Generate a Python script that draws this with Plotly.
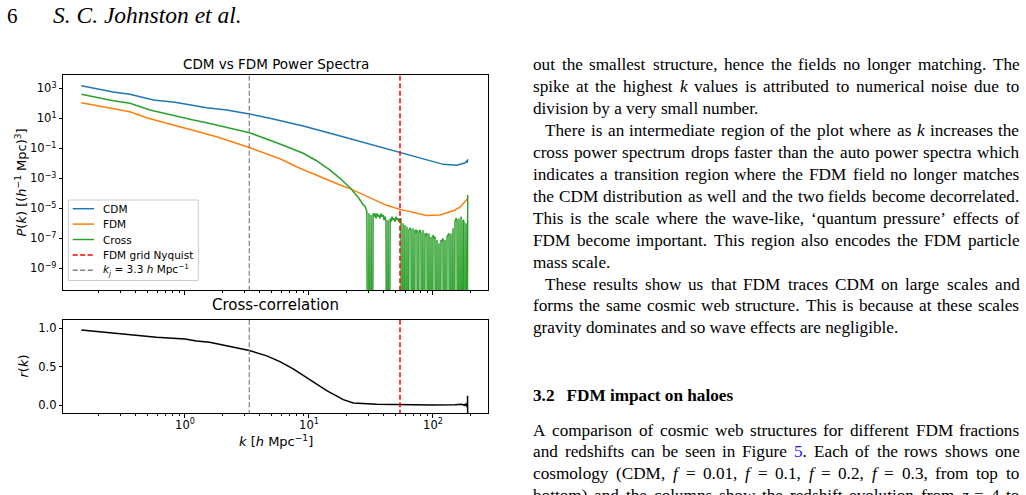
import re
import plotly.graph_objects as go

W, H = 1026, 495

# ---------------- data ----------------
cdm_k = [0.146, 0.264, 0.360, 0.556, 0.83, 1.096, 1.496, 2.168, 3.31, 4.84, 5.83, 8.99,
         16.7, 31.0, 54.2, 89.1, 121, 155, 174, 181, 186, 189, 190.5]
cdm_p = [1480, 562, 398, 166, 117, 77.6, 51.3, 35.5, 19.5, 10.0, 6.9, 3.1,
         0.78, 0.195, 0.051, 0.0166, 0.0085, 0.0074, 0.0089, 0.0105, 0.0135, 0.011, 0.0186]

fdm_k = [0.146, 0.264, 0.360, 0.490, 1.03, 1.80, 3.31, 5.83, 8.45, 12.6, 17.8, 21.9,
         28.2, 33.0, 42.3, 54.2, 69.3, 89.1, 113.8, 128.8, 147.9, 165.2, 186.2, 190.5]
fdm_p = [110, 41.7, 27.5, 11.0, 2.14, 0.589, 0.112, 0.0200, 4.68e-3, 1.12e-3, 3.55e-4, 1.91e-4,
         7.6e-5, 3.98e-5, 1.58e-5, 8.5e-6, 5.1e-6, 3.3e-6, 3.55e-6, 4.7e-6, 7.1e-6, 1.17e-5, 3.55e-5, 4.5e-5]

# cross spectrum, smooth large-scale part
cross_k = [0.146, 0.264, 0.360, 0.522, 1.167, 1.496, 3.31, 4.84, 5.83, 8.99, 11.5, 14.8,
           17.8, 21.9, 25.1, 27.4, 28.3]
cross_p = [398, 148, 100, 35.5, 7.76, 5.13, 1.10, 0.355, 0.195, 0.0468, 0.0148, 3.55e-3,
           1.0e-3, 1.91e-4, 5.0e-5, 1.66e-5, 1.4e-5]

# cross spectrum, noisy small-scale part; 0 marks non-positive values (off the log axis)
cross_noise_k = [28.3, 28.8, 29.3, 29.9, 30.5, 31.1, 31.7, 32.2, 32.9, 33.5, 34.1, 34.7, 35.4, 36.1,
                 36.7, 37.4, 38.1, 38.8, 39.6, 40.3, 41.1, 41.8, 42.6, 43.4, 44.2, 45.1, 45.9, 46.8,
                 47.6, 48.5, 49.4, 50.4, 51.3, 52.3, 53.2, 54.2,
                 55.2, 56.2, 57.3, 58.3, 59.4, 60.5, 61.7, 62.8, 64.0, 65.3, 66.5, 67.7, 69.0, 70.3,
                 71.6, 72.9, 74.3, 75.7, 77.1, 78.6, 80.0, 81.5, 83.0, 84.6, 86.2, 87.8, 89.5, 91.2,
                 92.9, 94.6, 96.4, 98.2, 100.0, 101.9, 103.8, 105.7, 107.7, 109.7, 111.8, 113.8, 116.0,
                 118.2, 120.4, 122.6, 124.9, 127.3, 129.7, 132.1, 134.6, 137.1, 139.7, 142.3, 144.9,
                 147.6, 150.4, 153.2, 156.1, 159.1, 162.0, 165.1, 168.2, 171.3, 174.5, 177.8, 181.1,
                 184.5, 188.0, 190.5]
cross_noise_p = [1.4e-5, 1.0e-5, 6.0e-6, 0, 4.6e-6, 0, 3.6e-6, 0, 4.6e-6, 2.8e-6, 4.6e-6, 2.1e-6, 4.6e-6, 2.8e-6,
                 3.6e-6, 2.1e-6, 4.6e-6, 2.8e-6, 3.6e-6, 1.66e-6, 2.8e-6, 1.29e-6, 0, 1.66e-6, 0, 2.1e-6, 1.29e-6, 2.8e-6,
                 1.66e-6, 2.1e-6, 1.29e-6, 2.8e-6, 1.66e-6, 2.1e-6, 1.29e-6, 1.66e-6,
                 2.1e-6, 0, 1.0e-6, 0, 7.7e-7, 0, 6.0e-7, 0, 3.6e-7, 4.6e-7, 3.6e-7, 0, 4.6e-7, 0,
                 3.6e-7, 2.8e-7, 3.6e-7, 0, 2.8e-7, 3.6e-7, 2.1e-7, 0, 3.6e-7, 0, 2.1e-7, 1.66e-7, 2.1e-7, 0,
                 2.1e-7, 0, 1.29e-7, 0, 1.66e-7, 1.0e-7, 1.29e-7, 0, 7.7e-8, 0, 4.6e-8, 0, 7.7e-8,
                 6.0e-8, 1.0e-7, 0, 7.7e-8, 0, 1.29e-7, 1.66e-7, 2.1e-7, 0, 2.1e-7, 0, 4.6e-7,
                 0, 1.29e-6, 2.1e-6, 1.66e-6, 0, 2.1e-6, 0, 2.8e-6, 0, 1.66e-6, 1.29e-6, 0,
                 1.0e-6, 0, 7.7e-5]

r_k = [0.146, 0.59, 1.0, 1.24, 1.58, 2.45, 3.31, 4.57, 5.83, 7.46, 10.2, 13.9, 18.9, 22.8,
       35.2, 54.0, 100, 150, 170, 180, 184, 187, 188.5, 189.5, 190.0, 190.5]
r_val = [0.978, 0.883, 0.862, 0.836, 0.819, 0.754, 0.711, 0.642, 0.568, 0.474, 0.332, 0.19, 0.074, 0.031,
         0.013, 0.008, 0.005, 0.006, 0.012, 0.0, 0.02, -0.015, 0.03, -0.03, 0.125, -0.2]

K_J = 3.3
K_NYQ = 54.2

ytick_exp = [3, 1, -1, -3, -5, -7, -9]
xtick_exp = [0, 1, 2]
r_ticks = [0.0, 0.5, 1.0]

series_names = ["CDM", "FDM", "Cross", "FDM grid Nyquist",
                "<i>k</i><sub><i>j</i></sub> = 3.3 <i>h</i> Mpc<sup>\u22121</sup>"]

C_CDM, C_FDM, C_CROSS = "#1f77b4", "#ff7f0e", "#2ca02c"
C_NYQ, C_KJ = "#ff0000", "#808080"
DASH_NYQ, DASH_KJ = "5px,2.5px", "5px,2.5px"

# ---------------- helpers ----------------
def px(x):
    return x / W


def py(y):
    return 1 - y / H


SANS = "DejaVu Sans"
SERIF = "Liberation Serif"

fig = go.Figure()

# top panel traces
fig.add_trace(go.Scatter(x=cdm_k, y=cdm_p, mode="lines", line=dict(color=C_CDM, width=1.5),
                         xaxis="x", yaxis="y", name=series_names[0], showlegend=False, hoverinfo="skip"))
fig.add_trace(go.Scatter(x=fdm_k, y=fdm_p, mode="lines", line=dict(color=C_FDM, width=1.5),
                         xaxis="x", yaxis="y", name=series_names[1], showlegend=False, hoverinfo="skip"))
fig.add_trace(go.Scatter(x=cross_k, y=cross_p, mode="lines", line=dict(color=C_CROSS, width=1.5),
                         xaxis="x", yaxis="y", name=series_names[2], showlegend=False, hoverinfo="skip"))
noise_plot = [p if p > 0 else 1e-30 for p in cross_noise_p]
fig.add_trace(go.Scatter(x=cross_noise_k, y=noise_plot, mode="lines", line=dict(color=C_CROSS, width=1.5),
                         xaxis="x", yaxis="y", name=series_names[2], showlegend=False, hoverinfo="skip"))
fig.add_trace(go.Scatter(x=[K_NYQ, K_NYQ], y=[1e-12, 1e5], mode="lines",
                         line=dict(color=C_NYQ, width=1.5, dash=DASH_NYQ),
                         xaxis="x", yaxis="y", showlegend=False, hoverinfo="skip"))
fig.add_trace(go.Scatter(x=[K_J, K_J], y=[1e-12, 1e5], mode="lines",
                         line=dict(color=C_KJ, width=1.2, dash=DASH_KJ),
                         xaxis="x", yaxis="y", showlegend=False, hoverinfo="skip"))

# bottom panel traces
fig.add_trace(go.Scatter(x=r_k, y=r_val, mode="lines", line=dict(color="black", width=1.5),
                         xaxis="x2", yaxis="y2", showlegend=False, hoverinfo="skip"))
fig.add_trace(go.Scatter(x=[K_J, K_J], y=[-1, 2], mode="lines",
                         line=dict(color=C_KJ, width=1.2, dash=DASH_KJ),
                         xaxis="x2", yaxis="y2", showlegend=False, hoverinfo="skip"))
fig.add_trace(go.Scatter(x=[K_NYQ, K_NYQ], y=[-1, 2], mode="lines",
                         line=dict(color=C_NYQ, width=1.5, dash=DASH_NYQ),
                         xaxis="x2", yaxis="y2", showlegend=False, hoverinfo="skip"))

XDOM = [px(63.3), px(488.3)]
XRANGE = [-0.981, 2.446]
minor_vals = [m * 10 ** e for e in (-1, 0, 1, 2) for m in range(2, 10)]
tickfont = dict(family=SANS, size=11.5, color="black")
common_x = dict(type="log", range=XRANGE, domain=XDOM, showgrid=False, zeroline=False,
                showline=True, linecolor="black", linewidth=1, mirror=True,
                ticks="outside", ticklen=3.5, tickwidth=0.8, tickcolor="black",
                tickmode="array", tickvals=[10 ** e for e in xtick_exp],
                ticktext=["10<sup>%d</sup>" % e for e in xtick_exp], tickfont=tickfont,
                minor=dict(tickmode="array", tickvals=minor_vals, ticks="outside",
                           ticklen=2, tickwidth=0.6, tickcolor="black", showgrid=False))

fig.update_layout(
    width=W, height=H, margin=dict(l=0, r=0, t=0, b=0),
    paper_bgcolor="white", plot_bgcolor="white",
    xaxis=dict(common_x, anchor="y", showticklabels=False),
    yaxis=dict(type="log", range=[-10.447, 3.887], domain=[py(290), py(75)], anchor="x",
               showgrid=False, zeroline=False, showline=True, linecolor="black", linewidth=1,
               mirror=True, ticks="outside", ticklen=3.5, tickwidth=0.8, tickcolor="black",
               tickmode="array", tickvals=[10.0 ** e for e in ytick_exp],
               ticktext=[("10<sup>%d</sup>" % e).replace("-", "\u2212") for e in ytick_exp],
               tickfont=tickfont),
    xaxis2=dict(common_x, anchor="y2", ticklabelstandoff=-3),
    yaxis2=dict(range=[-0.104, 1.108], domain=[py(413.3), py(320)], anchor="x2",
                showgrid=False, zeroline=False, showline=True, linecolor="black", linewidth=1,
                mirror=True, ticks="outside", ticklen=3.5, tickwidth=0.8, tickcolor="black",
                tickmode="array", tickvals=r_ticks, ticktext=["%.1f" % v for v in r_ticks],
                tickfont=tickfont),
)

ann = []


def add_text(x, y, text, size, family=SANS, xanchor="center", yanchor="middle", angle=0, color="black"):
    ann.append(dict(x=px(x), y=py(y), xref="paper", yref="paper", text=text, showarrow=False,
                    xanchor=xanchor, yanchor=yanchor, textangle=angle, borderpad=0, borderwidth=0,
                    font=dict(family=family, size=size, color=color)))


# chart titles / labels
add_text(275.8, 64, "CDM vs FDM Power Spectra", 13.5)
add_text(275.8, 305, "Cross-correlation", 15)
add_text(20, 182.5, "<i>P</i>(<i>k</i>) [(<i>h</i><sup>\u22121</sup> Mpc)<sup>3</sup>]", 13, angle=-90)
add_text(23, 366.5, "<i>r</i>(<i>k</i>)", 13, angle=-90)
add_text(275.8, 441, "<i>k</i> [<i>h</i> Mpc<sup>\u22121</sup>]", 13)

# manual legend
shapes = [dict(type="rect", xref="paper", yref="paper", x0=px(68.3), x1=px(198.3), y0=py(280.5), y1=py(200),
               fillcolor="rgba(255,255,255,0.8)", line=dict(color="#cccccc", width=1), layer="above")]
leg_styles = [(C_CDM, "solid"), (C_FDM, "solid"), (C_CROSS, "solid"), (C_NYQ, DASH_NYQ), (C_KJ, DASH_KJ)]
for i, (name, (col, dash)) in enumerate(zip(series_names, leg_styles)):
    yy = 208.7 + 15.4 * i
    shapes.append(dict(type="line", xref="paper", yref="paper", x0=px(72.7), x1=px(94), y0=py(yy), y1=py(yy),
                       line=dict(color=col, width=1.5, dash=dash), layer="above"))
    add_text(102.7, yy, name, 10.5, xanchor="left")

# ---------------- page text ----------------
TR = {' ': 250, ',': 250, '.': 250, '(': 333, ')': 333, '-': 333, '=': 564, ':': 278, ';': 278,
      '\u2018': 333, '\u2019': 333, "'": 333}
for ch, w in zip("abcdefghijklmnopqrstuvwxyz",
                 [444, 500, 444, 500, 444, 333, 500, 500, 278, 278, 500, 278, 778, 500, 500, 500, 500,
                  333, 389, 278, 500, 500, 722, 500, 500, 444]):
    TR[ch] = w
for ch, w in zip("ABCDEFGHIJKLMNOPQRSTUVWXYZ",
                 [722, 667, 667, 722, 611, 556, 722, 722, 333, 389, 722, 611, 889, 722, 722, 556, 722,
                  667, 556, 611, 722, 722, 944, 722, 722, 611]):
    TR[ch] = w
for d in "0123456789":
    TR[d] = 500
TI = {'k': 444, 'f': 278, 'z': 389}

FS = 17.2
RIGHT = 1019.5


def word_width(word):
    italic = "<i>" in word
    plain = re.sub(r"<[^>]+>", "", word)
    tot = 0
    for ch in plain:
        if italic and ch in TI:
            tot += TI[ch]
        else:
            tot += TR.get(ch, 500)
    return tot / 1000.0 * FS


def add_line(x0, y, text, justify):
    if not justify:
        add_text(x0, y, text, FS, family=SERIF, xanchor="left")
        return
    words = re.split(r" (?![^<]*>)", text)
    widths = [word_width(w) for w in words]
    gap = (RIGHT - x0 - sum(widths)) / (len(words) - 1)
    x = x0
    for w, wd in zip(words, widths):
        add_text(x, y, w, FS, family=SERIF, xanchor="left")
        x += wd + gap


body = [
    (533, "out the smallest structure, hence the fields no longer matching. The", True),
    (533, "spike at the highest <i>k</i> values is attributed to numerical noise due to", True),
    (533, "division by a very small number.", False),
    (545, "There is an intermediate region of the plot where as <i>k</i> increases the", True),
    (533, "cross power spectrum drops faster than the auto power spectra which", True),
    (533, "indicates a transition region where the FDM field no longer matches", True),
    (533, "the CDM distribution as well and the two fields become decorrelated.", True),
    (533, "This is the scale where the wave-like, \u2018quantum pressure\u2019 effects of", True),
    (533, "FDM become important. This region also encodes the FDM particle", True),
    (533, "mass scale.", False),
    (545, "These results show us that FDM traces CDM on large scales and", True),
    (533, "forms the same cosmic web structure. This is because at these scales", True),
    (533, "gravity dominates and so wave effects are negligible.", False),
]
for i, (x0, t, j) in enumerate(body):
    add_line(x0, 65 + 21.9 * i, t, j)

add_text(533, 395, "<b>3.2\u2002\u2009FDM impact on haloes</b>", FS, family=SERIF, xanchor="left")

tail = [
    (533, "A comparison of cosmic web structures for different FDM fractions", True, 430),
    (533, 'and redshifts can be seen in Figure <span style="color:#1a1aff">5</span>. Each of the rows shows one', True, 451.7),
    (533, "cosmology (CDM, <i>f</i> = 0.01, <i>f</i> = 0.1, <i>f</i> = 0.2, <i>f</i> = 0.3, from top to", True, 473.4),
    (533, "bottom) and the columns show the redshift evolution from <i>z</i> = 4 to", True, 495.1),
]
for x0, t, j, y in tail:
    add_line(x0, y, t, j)

# running head
add_text(6.7, 16.5, "6", 21, family=SERIF, xanchor="left")
add_text(53.3, 15.5, "<i>S. C. Johnston et al.</i>", 23.5, family=SERIF, xanchor="left")

fig.update_layout(annotations=ann, shapes=shapes)
fig.write_html("out.html")
